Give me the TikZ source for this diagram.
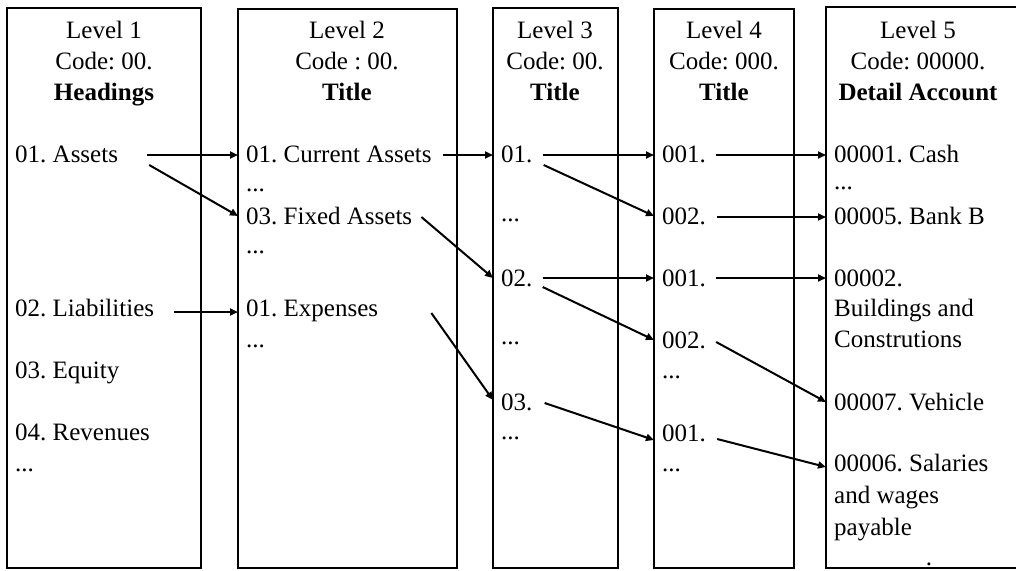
\documentclass[tikz,border=0pt]{standalone}
\usepackage{fontspec}
\setmainfont{Liberation Serif}
\usetikzlibrary{arrows.meta}
\begin{document}
\frenchspacing
\begin{tikzpicture}[x=1pt,y=-1pt,
  every node/.style={font=\fontsize{25}{30}\selectfont},
  box/.style={draw=black,line width=2pt,rectangle,inner sep=0pt,outer sep=0pt},
  hd/.style={inner sep=0pt,text height=17pt,text depth=0pt,anchor=center},
  item/.style={anchor=west,inner xsep=8pt,inner ysep=0pt,text height=17pt,text depth=0pt},
  arr/.style={line width=2pt,-{Triangle[length=8pt,width=7pt]}}]
\useasboundingbox (0,0) rectangle (1016,570);
\clip (0,0) rectangle (1016,570);
% boxes
\node[box,minimum width=194pt,minimum height=560pt] (box1) at (104,288) {};
\node[box,minimum width=219pt,minimum height=559pt] (box2) at (347.5,288.5) {};
\node[box,minimum width=125pt,minimum height=560pt] (box3) at (555.5,288) {};
\node[box,minimum width=140pt,minimum height=559pt] (box4) at (724,288.5) {};
\node[box,minimum width=200pt,minimum height=561pt] (box5) at (926,287.5) {};
% headers
\node[hd] (h1a) at (104,30) {Level 1};
\node[hd] (h1b) at (104,61) {Code: 00.};
\node[hd] (h1c) at (104,92) {\textbf{Headings}};
\node[hd] (h2a) at (347,30) {Level 2};
\node[hd] (h2b) at (347,61) {Code : 00.};
\node[hd] (h2c) at (347,92) {\textbf{Title}};
\node[hd] (h3a) at (555,30) {Level 3};
\node[hd] (h3b) at (555,61) {Code: 00.};
\node[hd] (h3c) at (555,92) {\textbf{Title}};
\node[hd] (h4a) at (724,30) {Level 4};
\node[hd] (h4b) at (724,61) {Code: 000.};
\node[hd] (h4c) at (724,92) {\textbf{Title}};
\node[hd] (h5a) at (918,30) {Level 5};
\node[hd] (h5b) at (918,61) {Code: 00000.};
\node[hd] (h5c) at (918,92) {\textbf{Detail Account}};
% level 1 items
\node[item] (assets) at (7,154) {01. Assets};
\node[item] (liab) at (7,308) {02. Liabilities};
\node[item] (equity) at (7,370) {03. Equity};
\node[item] (rev) at (7,432) {04. Revenues};
\node[item] (d1) at (7,463) {...};
% level 2 items
\node[item] (cur) at (238,154) {01. Current Assets};
\node[item] (d2a) at (238,183) {...};
\node[item] (fix) at (238,216) {03. Fixed Assets};
\node[item] (d2b) at (238,245) {...};
\node[item] (exp) at (238,308) {01. Expenses};
\node[item] (d2c) at (238,339) {...};
% level 3 items
\node[item] (l3a) at (493,154) {01.};
\node[item] (d3a) at (493,213) {...};
\node[item] (l3b) at (493,278) {02.};
\node[item] (d3b) at (493,336) {...};
\node[item] (l3c) at (493,402) {03.};
\node[item] (d3c) at (493,431) {...};
% level 4 items
\node[item] (l4a) at (654,154) {001.};
\node[item] (l4b) at (654,216) {002.};
\node[item] (l4c) at (654,278) {001.};
\node[item] (l4d) at (654,340) {002.};
\node[item] (d4a) at (654,370) {...};
\node[item] (l4e) at (654,433) {001.};
\node[item] (d4b) at (654,463) {...};
% level 5 items
\node[item] (cash) at (826,154) {00001. Cash};
\node[item] (d5a) at (826,181) {...};
\node[item] (bank) at (826,216) {00005. Bank B};
\node[item] (bld) at (826,278) {00002.};
\node[item] (bld2) at (826,308) {Buildings and};
\node[item] (bld3) at (826,339) {Construtions};
\node[item] (veh) at (826,402) {00007. Vehicle};
\node[item] (sal) at (826,463) {00006. Salaries};
\node[item] (sal2) at (826,495) {and wages};
\node[item] (sal3) at (826,527) {payable};
\node[inner sep=0pt,anchor=base] (dot5) at (929,565) {.};
% arrows
\draw[arr] ([shift={(21,1)}]assets.east) -- ([shift={(0,1)}]cur.west);
\draw[arr] ([shift={(23,11)}]assets.east) -- (fix.west);
\draw[arr] ([shift={(12,4)}]liab.east) -- ([shift={(0,4)}]exp.west);
\draw[arr] ([shift={(3,1)}]cur.east) -- ([shift={(0,1)}]l3a.west);
\draw[arr] ([shift={(1,1)}]fix.east) -- (l3b.west);
\draw[arr] ([shift={(45,5)}]exp.east) -- ([shift={(0,-2)}]l3c.west);
\draw[arr] ([shift={(2,1)}]l3a.east) -- ([shift={(0,1)}]l4a.west);
\draw[arr] ([shift={(3,11)}]l3a.east) -- (l4b.west);
\draw[arr] ([shift={(2,0)}]l3b.east) -- (l4c.west);
\draw[arr] ([shift={(2,9)}]l3b.east) -- (l4d.west);
\draw[arr] ([shift={(4,1)}]l3c.east) -- ([shift={(0,7)}]l4e.west);
\draw[arr] ([shift={(2,1)}]l4a.east) -- ([shift={(0,1)}]cash.west);
\draw[arr] ([shift={(3,1)}]l4b.east) -- ([shift={(0,1)}]bank.west);
\draw[arr] ([shift={(2,0)}]l4c.east) -- (bld.west);
\draw[arr] ([shift={(2,2)}]l4d.east) -- (veh.west);
\draw[arr] ([shift={(3,6)}]l4e.east) -- ([shift={(0,4)}]sal.west);
\end{tikzpicture}
\end{document}
